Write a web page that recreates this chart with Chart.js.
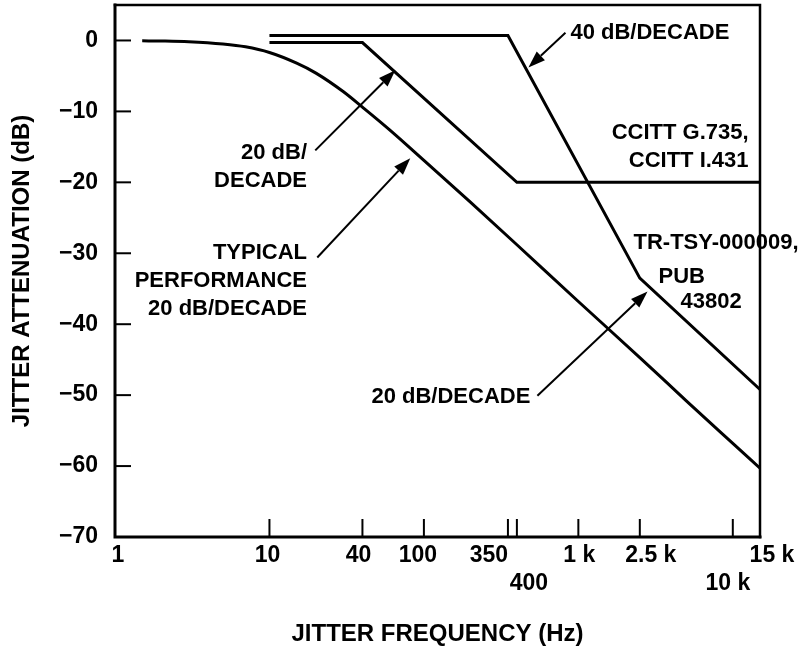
<!DOCTYPE html>
<html>
<head>
<meta charset="utf-8">
<script src="https://cdn.jsdelivr.net/npm/chart.js@4.4.1/dist/chart.umd.min.js"></script>
<style>
  html, body { margin: 0; background: #fff; }
</style>
</head>
<body>
<canvas id="jitterChart" width="810" height="655"></canvas>
<script>
// values
const typFreq = [1.5, 2, 3, 5, 7, 10, 15, 20, 30, 40, 60, 100, 200, 400, 1000, 2500, 5000, 10000, 15000];
const typAtt = [-0.05, -0.08, -0.18, -0.5, -0.9, -1.7, -3.2, -4.6, -7.2, -9.4, -12.6, -16.9, -22.8, -28.8, -36.8, -44.7, -50.8, -56.8, -60.3];
const ccittFreq = [10, 40, 400, 15000];
const ccittAtt = [-0.3, -0.3, -20, -20];
const trFreq = [10, 350, 2500, 15000];
const trAtt = [0.7, 0.7, -33.5, -49.2];

const xTicks = [1, 10, 40, 100, 350, 400, 1000, 2500, 10000, 15000];
const xTickLabels = ['1', '10', '40', '100', '350', '400', '1 k', '2.5 k', '10 k', '15 k'];
const xTickRow = [0, 0, 0, 0, 0, 1, 0, 0, 1, 0];
const yTicks = [0, -10, -20, -30, -40, -50, -60, -70];

// label nudges in px (the original staggers some labels off their tick)
const xLabelShift = [3, -2, -4, -6, -19, 12, 1, 11, -5, 12];

const FONT = '"Liberation Sans", Arial, Helvetica, sans-serif';

const notes = [
  { lines: ['40 dB/DECADE'], f: 889, db: 1.0, align: 'left' },
  { lines: ['20 dB/', 'DECADE'], f: 17.5, db: -15.8, align: 'right' },
  { lines: ['TYPICAL', 'PERFORMANCE', '20 dB/DECADE'], f: 17.5, db: -30.0, align: 'right' },
  { lines: ['20 dB/DECADE'], f: 489, db: -50.3, align: 'right' },
  { lines: ['CCITT G.735,', 'CCITT I.431'], f: 12650, db: -13.1, align: 'right' },
  { lines: ['TR-TSY-000009,'], f: 2276, db: -28.6, align: 'left' },
  { lines: ['PUB'], f: 3305, db: -33.4, align: 'left' },
  { lines: ['43802'], f: 4590, db: -36.9, align: 'left' }
];

const arrows = [
  { from: [825, 1.1], to: [475, -3.8] },
  { from: [19.8, -15.5], to: [65.3, -4.2] },
  { from: [20.4, -30.6], to: [81.6, -16.6] },
  { from: [543, -50.1], to: [2805, -35.4] }
];

const pts = (fs, vs) => fs.map((f, i) => ({ x: f, y: vs[i] }));

const decorPlugin = {
  id: 'decor',
  afterDraw(chart) {
    const ctx = chart.ctx;
    const xs = chart.scales.x, ys = chart.scales.y;
    const a = chart.chartArea;
    ctx.save();
    ctx.strokeStyle = '#000';
    ctx.fillStyle = '#000';
    ctx.lineCap = 'square';

    // frame
    ctx.lineWidth = 2.5;
    ctx.beginPath();
    ctx.moveTo(a.left, a.top); ctx.lineTo(a.right, a.top); ctx.lineTo(a.right, a.bottom);
    ctx.stroke();
    ctx.lineWidth = 3;
    ctx.beginPath();
    ctx.moveTo(a.left, a.top); ctx.lineTo(a.left, a.bottom); ctx.lineTo(a.right, a.bottom);
    ctx.stroke();

    // inward tick marks
    ctx.lineWidth = 2;
    ctx.lineCap = 'butt';
    yTicks.forEach(v => {
      const y = ys.getPixelForValue(v);
      if (Math.abs(y - a.bottom) < 2) return;
      ctx.beginPath(); ctx.moveTo(a.left, y); ctx.lineTo(a.left + 16, y); ctx.stroke();
    });
    xTicks.forEach(v => {
      const x = xs.getPixelForValue(v);
      if (Math.abs(x - a.left) < 2 || Math.abs(x - a.right) < 2) return;
      ctx.beginPath(); ctx.moveTo(x, a.bottom); ctx.lineTo(x, a.bottom - 18); ctx.stroke();
    });

    // x tick labels, two rows
    ctx.font = 'bold 23px ' + FONT;
    ctx.textAlign = 'center';
    ctx.textBaseline = 'middle';
    xTicks.forEach((v, i) => {
      const x = xs.getPixelForValue(v) + xLabelShift[i];
      ctx.fillText(xTickLabels[i], x, a.bottom + 19 + xTickRow[i] * 28);
    });

    // annotation texts
    ctx.font = 'bold 22px ' + FONT;
    notes.forEach(n => {
      const x = xs.getPixelForValue(n.f), y = ys.getPixelForValue(n.db);
      ctx.textAlign = n.align;
      n.lines.forEach((t, k) => ctx.fillText(t, x, y + k * 28));
    });

    // leader arrows
    arrows.forEach(ar => {
      const x0 = xs.getPixelForValue(ar.from[0]), y0 = ys.getPixelForValue(ar.from[1]);
      const x1 = xs.getPixelForValue(ar.to[0]), y1 = ys.getPixelForValue(ar.to[1]);
      const ang = Math.atan2(y1 - y0, x1 - x0);
      const len = 17, hw = 6;
      const bx = x1 - len * Math.cos(ang), by = y1 - len * Math.sin(ang);
      ctx.lineWidth = 2;
      ctx.beginPath(); ctx.moveTo(x0, y0); ctx.lineTo(bx, by); ctx.stroke();
      ctx.beginPath();
      ctx.moveTo(x1, y1);
      ctx.lineTo(bx + hw * Math.sin(ang), by - hw * Math.cos(ang));
      ctx.lineTo(bx - hw * Math.sin(ang), by + hw * Math.cos(ang));
      ctx.closePath();
      ctx.fill();
    });
    ctx.restore();
  }
};

const ctx = document.getElementById('jitterChart').getContext('2d');
const jitterChart = new Chart(ctx, {
  type: 'line',
  data: {
    datasets: [
      {
        label: 'Typical performance',
        data: pts(typFreq, typAtt),
        borderColor: '#000',
        borderWidth: 3,
        pointRadius: 0,
        cubicInterpolationMode: 'monotone'
      },
      {
        label: 'CCITT G.735 / I.431',
        data: pts(ccittFreq, ccittAtt),
        borderColor: '#000',
        borderWidth: 3,
        pointRadius: 0,
        tension: 0
      },
      {
        label: 'TR-TSY-000009',
        data: pts(trFreq, trAtt),
        borderColor: '#000',
        borderWidth: 3,
        pointRadius: 0,
        tension: 0
      }
    ]
  },
  options: {
    responsive: false,
    animation: false,
    devicePixelRatio: 1,
    layout: { padding: { top: 5, right: 50, left: 0, bottom: 0 } },
    scales: {
      x: {
        type: 'logarithmic',
        min: 1,
        max: 15000,
        afterBuildTicks: s => { s.ticks = xTicks.map(v => ({ value: v })); },
        afterFit: s => { s.height = 118; s.paddingLeft = 0; s.paddingRight = 0; },
        grid: { display: false },
        border: { display: false },
        ticks: { display: false },
        title: {
          display: true,
          text: 'JITTER FREQUENCY (Hz)',
          color: '#000',
          font: { family: FONT, size: 24, weight: 'bold' },
          padding: { top: 0, bottom: 6 }
        }
      },
      y: {
        type: 'linear',
        min: -70,
        max: 5,
        afterBuildTicks: s => { s.ticks = yTicks.map(v => ({ value: v })); },
        afterFit: s => { s.width = 115; s.paddingTop = 0; s.paddingBottom = 0; },
        grid: { display: false },
        border: { display: false },
        ticks: {
          color: '#000',
          padding: 9,
          font: { family: FONT, size: 23, weight: 'bold' },
          callback: v => (v === 0 ? '0' : '\u2212' + Math.abs(v))
        },
        title: {
          display: true,
          text: 'JITTER ATTENUATION (dB)',
          color: '#000',
          font: { family: FONT, size: 24, weight: 'bold' },
          padding: { top: 8, bottom: 0 }
        }
      }
    },
    plugins: {
      legend: { display: false },
      tooltip: { enabled: false }
    }
  },
  plugins: [decorPlugin]
});
</script>
</body>
</html>
